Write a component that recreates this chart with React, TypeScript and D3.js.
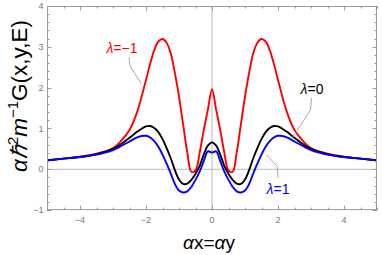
import * as React from 'react';
import * as d3 from 'd3';

// sample positions (alpha x = alpha y)
const xs = [
  -5, -4.5, -4, -3.5, -3, -2.75, -2.5, -2.25, -2, -1.875, -1.75, -1.625, -1.5, -1.375, -1.25, -1.125,
  -1, -0.875, -0.75, -0.625, -0.5, -0.375, -0.25, -0.125, 0,
  0.125, 0.25, 0.375, 0.5, 0.625, 0.75, 0.875, 1,
  1.125, 1.25, 1.375, 1.5, 1.625, 1.75, 1.875, 2, 2.25, 2.5, 2.75, 3, 3.5, 4, 4.5, 5,
];

// lambda = -1
const redVals = [
  0.22, 0.26, 0.31, 0.38, 0.52, 0.70, 0.96, 1.45, 2.19, 2.58, 2.92, 3.13, 3.19, 3.10, 2.84, 2.36,
  1.78, 1.10, 0.42, -0.06, -0.03, 0.40, 0.96, 1.46, 1.96,
  1.46, 0.96, 0.40, -0.03, -0.06, 0.42, 1.10, 1.78,
  2.36, 2.84, 3.10, 3.19, 3.13, 2.92, 2.58, 2.19, 1.45, 0.96, 0.70, 0.52, 0.38, 0.31, 0.26, 0.22,
];

// lambda = 0
const blackVals = [
  0.22, 0.26, 0.30, 0.37, 0.50, 0.62, 0.77, 0.93, 1.05, 1.06, 1.01, 0.91, 0.74, 0.52, 0.27, -0.02,
  -0.25, -0.36, -0.35, -0.26, -0.11, 0.08, 0.36, 0.58, 0.66,
  0.58, 0.36, 0.08, -0.11, -0.26, -0.35, -0.36, -0.25,
  -0.02, 0.27, 0.52, 0.74, 0.91, 1.01, 1.06, 1.05, 0.93, 0.77, 0.62, 0.50, 0.37, 0.30, 0.26, 0.22,
];

// lambda = 1
const blueVals = [
  0.22, 0.26, 0.30, 0.36, 0.47, 0.57, 0.68, 0.79, 0.82, 0.78, 0.69, 0.55, 0.36, 0.14, -0.10, -0.36,
  -0.52, -0.57, -0.54, -0.43, -0.26, -0.06, 0.20, 0.44, 0.41,
  0.44, 0.20, -0.06, -0.26, -0.43, -0.54, -0.57, -0.52,
  -0.36, -0.10, 0.14, 0.36, 0.55, 0.69, 0.78, 0.82, 0.79, 0.68, 0.57, 0.47, 0.36, 0.30, 0.26, 0.22,
];

const xTicks = [-4, -2, 0, 2, 4];
const yTicks = [-1, 0, 1, 2, 3, 4];

const W = 382;
const H = 255;
const font = '"Liberation Sans", Arial, sans-serif';

const fmt = (v: number) => (v < 0 ? '\u2212' + Math.abs(v) : String(v));

const App: React.FC = () => {
  const x = d3.scaleLinear().domain([-5, 5]).range([47, 377]);
  const y = d3.scaleLinear().domain([-1, 4]).range([210.1, 6]);

  const line = d3
    .line<number>()
    .x((_, i) => x(xs[i]))
    .y((v) => y(v))
    .curve(d3.curveCatmullRom.alpha(0.5));

  const xMinor = d3.range(-5, 5.001, 0.5);
  const yMinor = d3.range(-1, 4.001, 0.2);
  const tickCol = '#999';

  const series = [
    { vals: redVals, color: '#ff0000' },
    { vals: blackVals, color: '#000000' },
    { vals: blueVals, color: '#0000ff' },
  ];

  return (
    <svg width={W} height={H} style={{ position: 'absolute', left: 0, top: 0 }} fontFamily={font}>
      {/* zero axes */}
      <line x1={x(0)} x2={x(0)} y1={y(4)} y2={y(-1)} stroke="#bbb" strokeWidth={1} />
      <line x1={x(-5)} x2={x(5)} y1={y(0)} y2={y(0)} stroke="#bbb" strokeWidth={1} />

      {/* curves */}
      <g clipPath="url(#clip)">
        {series.map((s, i) => (
          <path key={i} d={line(s.vals) || ''} fill="none" stroke={s.color} strokeWidth={1.9} />
        ))}
      </g>
      <defs>
        <clipPath id="clip">
          <rect x={x(-5)} y={y(4)} width={x(5) - x(-5)} height={y(-1) - y(4)} />
        </clipPath>
      </defs>

      {/* frame */}
      <rect x={x(-5) + 0.5} y={y(4) + 0.5} width={x(5) - x(-5) - 1} height={y(-1) - y(4) - 1}
        fill="none" stroke={tickCol} strokeWidth={1} />

      {/* ticks */}
      {xMinor.map((t, i) => {
        const major = xTicks.includes(Math.round(t * 100) / 100);
        const len = major ? 4.5 : 2.5;
        const px = Math.round(x(t)) + 0.5;
        return (
          <g key={'xt' + i} stroke={tickCol} strokeWidth={1}>
            <line x1={px} x2={px} y1={y(-1)} y2={y(-1) - len} />
            <line x1={px} x2={px} y1={y(4)} y2={y(4) + len} />
          </g>
        );
      })}
      {yMinor.map((t, i) => {
        const major = yTicks.includes(Math.round(t * 100) / 100);
        const len = major ? 4.5 : 2.5;
        const py = Math.round(y(t)) + 0.5;
        return (
          <g key={'yt' + i} stroke={tickCol} strokeWidth={1}>
            <line x1={x(-5)} x2={x(-5) + len} y1={py} y2={py} />
            <line x1={x(5)} x2={x(5) - len} y1={py} y2={py} />
          </g>
        );
      })}

      {/* tick labels */}
      {xTicks.map((t) => (
        <text key={'xl' + t} x={x(t)} y={222.5} fontSize={9} fill="#777" textAnchor="middle">
          {fmt(t)}
        </text>
      ))}
      {yTicks.map((t) => (
        <text key={'yl' + t} x={43.5} y={y(t) + 3.2} fontSize={9} fill="#777" textAnchor="end">
          {fmt(t)}
        </text>
      ))}

      {/* axis labels */}
      <text x={209} y={249} fontSize={19} textAnchor="middle" fill="#000">
        <tspan fontStyle="italic">α</tspan>x=<tspan fontStyle="italic">α</tspan>y
      </text>
      <text transform="translate(27,96) rotate(-90)" fontSize={22.5} textAnchor="middle" fill="#000">
        <tspan fontStyle="italic">αℏ</tspan>
        <tspan fontSize={15} dy={-9}>2</tspan>
        <tspan fontStyle="italic" dy={9}>m</tspan>
        <tspan fontSize={15} dy={-9}>{'\u22121'}</tspan>
        <tspan dy={9}>G(x,y,E)</tspan>
      </text>

      {/* callouts */}
      <polyline points="129,57 130,66 141.5,84" fill="none" stroke="#aaa" strokeWidth={1} />
      <text x={122} y={53} fontSize={14} fill="#ff0000" textAnchor="middle">
        <tspan fontStyle="italic">λ</tspan>={'\u22121'}
      </text>
      <polyline points="311.5,98 310.5,110 293,137" fill="none" stroke="#aaa" strokeWidth={1} />
      <text x={312} y={94} fontSize={14} fill="#000" textAnchor="middle">
        <tspan fontStyle="italic">λ</tspan>=0
      </text>
      <polyline points="266.5,155 277,166 278,178" fill="none" stroke="#aaa" strokeWidth={1} />
      <text x={278} y={194} fontSize={14} fill="#0000ff" textAnchor="middle">
        <tspan fontStyle="italic">λ</tspan>=1
      </text>
    </svg>
  );
};

export default App;
